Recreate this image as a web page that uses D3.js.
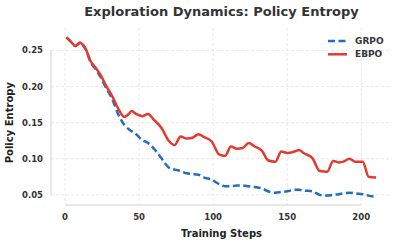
<!DOCTYPE html>
<html>
<head>
<meta charset="utf-8">
<script src="https://cdn.jsdelivr.net/npm/d3@7"></script>
<style>
  body { margin: 0; background: #fff; }
  svg { display: block; font-family: "DejaVu Sans", sans-serif; }
  .grid line { stroke: #e3e3e3; stroke-width: 0.8; stroke-dasharray: 3,2; }
  .tick-label { font-size: 8.5px; font-weight: bold; fill: #333; }
</style>
</head>
<body>
<svg id="chart" width="397" height="244"></svg>
<script>
const steps = [1, 4, 7, 10, 12, 14, 17, 21, 24, 28, 32, 36, 40, 43, 45, 48, 52, 56, 60, 65,
  70, 74, 78, 82, 86, 90, 94, 99, 104, 108, 112, 116, 120, 124, 128, 133, 137, 142, 146, 150,
  155, 158, 161, 167, 172, 177, 181, 185, 188, 192, 196, 201, 205, 210];
const grpo = [0.268, 0.262, 0.256, 0.260, 0.257, 0.251, 0.235, 0.223, 0.213, 0.197, 0.182, 0.161, 0.147, 0.141, 0.138, 0.134, 0.126, 0.122, 0.114, 0.101,
  0.088, 0.085, 0.083, 0.080, 0.079, 0.078, 0.074, 0.071, 0.065, 0.062, 0.062, 0.063, 0.063, 0.062, 0.061, 0.059, 0.055, 0.053, 0.054, 0.055,
  0.057, 0.057, 0.056, 0.055, 0.050, 0.049, 0.050, 0.051, 0.052, 0.053, 0.052, 0.051, 0.049, 0.047];
const ebpo = [0.268, 0.262, 0.256, 0.261, 0.258, 0.252, 0.236, 0.225, 0.216, 0.200, 0.186, 0.169, 0.158, 0.162, 0.166, 0.162, 0.159, 0.162, 0.154, 0.143,
  0.125, 0.119, 0.131, 0.128, 0.129, 0.134, 0.130, 0.124, 0.106, 0.104, 0.117, 0.114, 0.115, 0.122, 0.117, 0.111, 0.098, 0.096, 0.110, 0.108,
  0.110, 0.112, 0.108, 0.101, 0.083, 0.082, 0.097, 0.095, 0.096, 0.100, 0.096, 0.096, 0.075, 0.074];
const xTicks = [0, 50, 100, 150, 200];
const yTicks = [0.05, 0.10, 0.15, 0.20, 0.25];
const seriesNames = ["GRPO", "EBPO"];
const colors = { GRPO: "#1f6dc6", EBPO: "#e23b2e" };

const plot = { left: 51, right: 391.6, top: 29.5, bottom: 205 };

const svg = d3.select("#chart");

const x = d3.scaleLinear().domain([-9.5, 220.5]).range([plot.left, plot.right]);
const y = d3.scaleLinear().domain([0.036, 0.279]).range([plot.bottom, plot.top]);

// grid
const grid = svg.append("g").attr("class", "grid");
grid.selectAll(".gx").data(xTicks).join("line")
  .attr("x1", d => x(d)).attr("x2", d => x(d))
  .attr("y1", plot.top - 1.5).attr("y2", plot.bottom);
grid.selectAll(".gy").data(yTicks).join("line")
  .attr("x1", plot.left).attr("x2", plot.right)
  .attr("y1", d => y(d)).attr("y2", d => y(d));

// trimmed spines
svg.append("line")
  .attr("x1", plot.left).attr("x2", plot.left)
  .attr("y1", y(0.25)).attr("y2", y(0.05))
  .attr("stroke", "#cfcfcf").attr("stroke-width", 1);
svg.append("line")
  .attr("x1", x(0)).attr("x2", x(200))
  .attr("y1", plot.bottom).attr("y2", plot.bottom)
  .attr("stroke", "#cfcfcf").attr("stroke-width", 1);

// tick labels
svg.selectAll(".yl").data(yTicks).join("text")
  .attr("class", "tick-label")
  .attr("x", 43).attr("y", d => y(d))
  .attr("dy", "0.35em").attr("text-anchor", "end")
  .text(d => d3.format(".2f")(d));
svg.selectAll(".xl").data(xTicks).join("text")
  .attr("class", "tick-label")
  .attr("x", d => x(d)).attr("y", 220)
  .attr("text-anchor", "middle")
  .text(d => d);

// lines
const line = vals => d3.line()
  .x((d, i) => x(steps[i]))
  .y(d => y(d))
  .curve(d3.curveMonotoneX)(vals);

svg.append("path")
  .attr("d", line(grpo))
  .attr("fill", "none")
  .attr("stroke", colors.GRPO)
  .attr("stroke-width", 2.5)
  .attr("stroke-dasharray", "7,3.5");

svg.append("path")
  .attr("d", line(ebpo))
  .attr("fill", "none")
  .attr("stroke", colors.EBPO)
  .attr("stroke-width", 2.5);

// legend
const legend = svg.append("g");
seriesNames.forEach((name, i) => {
  const ly = 41 + i * 13.3;
  legend.append("line")
    .attr("x1", 328).attr("x2", 347)
    .attr("y1", ly).attr("y2", ly)
    .attr("stroke", colors[name]).attr("stroke-width", 2.5)
    .attr("stroke-dasharray", name === "GRPO" ? "7,3.5" : null);
  legend.append("text")
    .attr("x", 355).attr("y", ly).attr("dy", "0.35em")
    .attr("font-size", "9px").attr("font-weight", "bold").attr("fill", "#333")
    .text(name);
});

// titles
svg.append("text")
  .attr("x", 221.5).attr("y", 16)
  .attr("text-anchor", "middle")
  .attr("font-size", "13px").attr("font-weight", "bold").attr("fill", "#333")
  .text("Exploration Dynamics: Policy Entropy");

svg.append("text")
  .attr("x", 221.5).attr("y", 237)
  .attr("text-anchor", "middle")
  .attr("font-size", "10px").attr("font-weight", "bold").attr("fill", "#222")
  .text("Training Steps");

svg.append("text")
  .attr("transform", `translate(13, ${y(0.15)}) rotate(-90)`)
  .attr("text-anchor", "middle")
  .attr("font-size", "10px").attr("font-weight", "bold").attr("fill", "#222")
  .text("Policy Entropy");
</script>
</body>
</html>
